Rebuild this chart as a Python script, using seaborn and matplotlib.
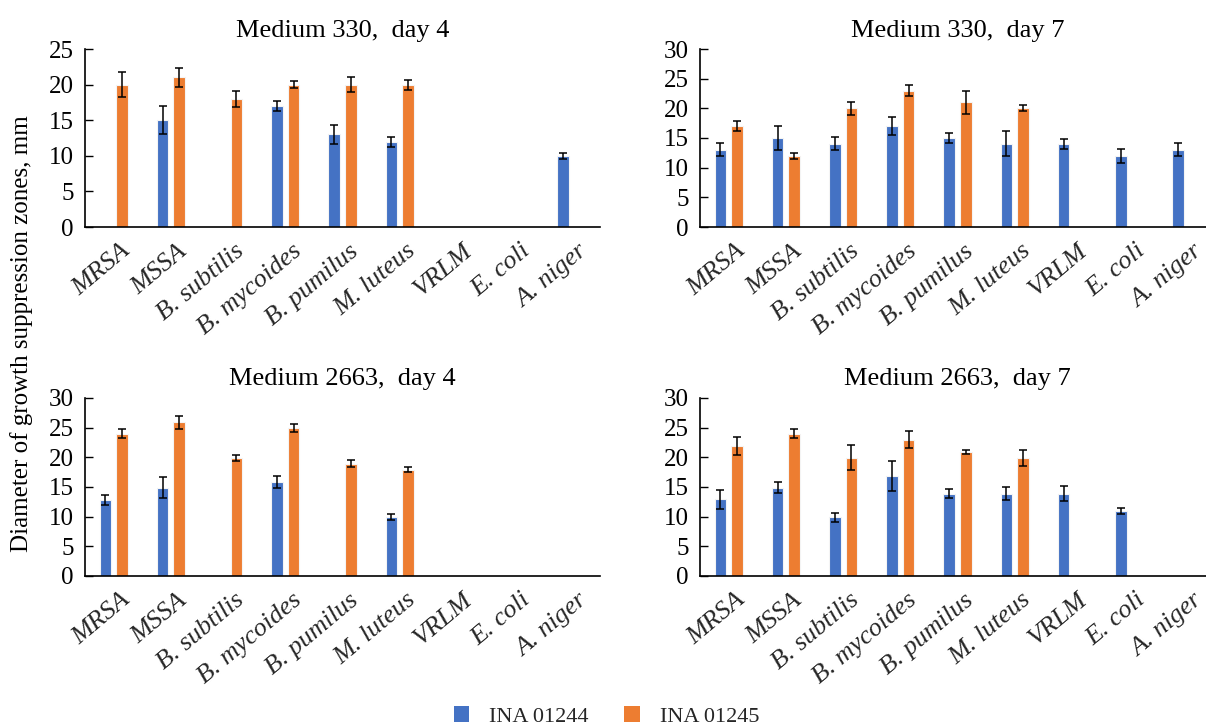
import numpy as np
import pandas as pd
import matplotlib
matplotlib.use("Agg")
import matplotlib.pyplot as plt
import matplotlib.transforms as mtransforms
from matplotlib.patches import Patch
import seaborn as sns

# ---------------- data ----------------
organisms = ["MRSA", "MSSA", "B. subtilis", "B. mycoides", "B. pumilus",
             "M. luteus", "VRLM", "E. coli", "A. niger"]
strains = ["INA 01244", "INA 01245"]
titles = ["Medium 330,  day 4", "Medium 330,  day 7",
          "Medium 2663,  day 4", "Medium 2663,  day 7"]

# Medium 330, day 4
m330_d4_01244 = [0, 15, 0, 17, 13, 12, 0, 0, 10]
m330_d4_01244_err = [0, 2.0, 0, 0.7, 1.3, 0.7, 0, 0, 0.4]
m330_d4_01245 = [20, 21, 18, 20, 20, 20, 0, 0, 0]
m330_d4_01245_err = [1.7, 1.4, 1.1, 0.5, 1.0, 0.7, 0, 0, 0]

# Medium 330, day 7
m330_d7_01244 = [13, 15, 14, 17, 15, 14, 14, 12, 13]
m330_d7_01244_err = [1.1, 2.0, 1.1, 1.5, 0.9, 2.1, 0.8, 1.2, 1.1]
m330_d7_01245 = [17, 12, 20, 23, 21, 20, 0, 0, 0]
m330_d7_01245_err = [0.9, 0.5, 1.1, 1.0, 2.0, 0.5, 0, 0, 0]

# Medium 2663, day 4
m2663_d4_01244 = [12.8, 14.9, 0, 15.9, 0, 9.9, 0, 0, 0]
m2663_d4_01244_err = [0.8, 1.8, 0, 1.0, 0, 0.5, 0, 0, 0]
m2663_d4_01245 = [24, 25.9, 19.9, 25, 18.9, 17.9, 0, 0, 0]
m2663_d4_01245_err = [0.8, 1.1, 0.5, 0.7, 0.6, 0.4, 0, 0, 0]

# Medium 2663, day 7
m2663_d7_01244 = [12.9, 14.9, 9.9, 16.9, 13.9, 13.9, 13.9, 10.9, 0]
m2663_d7_01244_err = [1.6, 0.9, 0.8, 2.5, 0.8, 1.1, 1.3, 0.5, 0]
m2663_d7_01245 = [21.9, 24, 19.9, 23, 20.9, 19.9, 0, 0, 0]
m2663_d7_01245_err = [1.5, 0.8, 2.1, 1.5, 0.4, 1.3, 0, 0, 0]

panels = [
    (m330_d4_01244, m330_d4_01244_err, m330_d4_01245, m330_d4_01245_err, 25),
    (m330_d7_01244, m330_d7_01244_err, m330_d7_01245, m330_d7_01245_err, 30),
    (m2663_d4_01244, m2663_d4_01244_err, m2663_d4_01245, m2663_d4_01245_err, 30),
    (m2663_d7_01244, m2663_d7_01244_err, m2663_d7_01245, m2663_d7_01245_err, 30),
]

colors = {"INA 01244": "#4472C4", "INA 01245": "#ED7D31"}

# ---------------- style ----------------
sns.set_theme(style="white")
plt.rcParams["font.family"] = ["Liberation Serif", "DejaVu Serif"]

FS_TITLE = 19
FS_XT = 19
FS_YT = 18
FS_YL = 18
FS_LEG = 16

fig = plt.figure(figsize=(12.06, 7.28), dpi=100)

W, H = 1206.0, 728.0
boxes = [  # left, top, right, bottom in pixels
    (85, 49, 600, 227),
    (700, 49, 1215, 227),
    (85, 398, 600, 576),
    (700, 398, 1215, 576),
]

for (v1, e1, v2, e2, ymax), (l, t, r, b), title in zip(panels, boxes, titles):
    ax = fig.add_axes([l / W, 1 - b / H, (r - l) / W, (b - t) / H])
    df = pd.DataFrame({
        "organism": organisms * 2,
        "strain": [strains[0]] * len(organisms) + [strains[1]] * len(organisms),
        "value": list(v1) + list(v2),
    })
    sns.barplot(data=df, x="organism", y="value", hue="strain",
                order=organisms, hue_order=strains, palette=colors,
                width=0.58, gap=0.3, errorbar=None, legend=False,
                linewidth=0.8, edgecolor="#f4f4f4", ax=ax, saturation=1)
    errs = [e1, e2]
    vals = [v1, v2]
    bar_containers = list(ax.containers)[:2]
    for ci, cont in enumerate(bar_containers):
        for bi, bar in enumerate(cont):
            if vals[ci][bi] <= 0:
                bar.set_visible(False)
                continue
            xc = bar.get_x() + bar.get_width() / 2
            ax.errorbar(xc, bar.get_height(), yerr=errs[ci][bi], fmt="none",
                        ecolor="black", elinewidth=1.1, capsize=3.0,
                        capthick=1.1, zorder=5)
    ax.set_xlim(-0.5, 8.5)
    ax.set_ylim(0, ymax)
    ax.set_yticks(np.arange(0, ymax + 1, 5))
    ax.set_xlabel("")
    ax.set_ylabel("")
    for s in ["top", "right"]:
        ax.spines[s].set_visible(False)
    for s in ["left", "bottom"]:
        ax.spines[s].set_color("black")
        ax.spines[s].set_linewidth(1.2)
    ax.tick_params(axis="y", direction="in", length=6, width=1, pad=8,
                   labelsize=FS_YT, colors="black", left=True)
    ax.tick_params(axis="x", length=0, pad=5, labelsize=FS_XT)
    offset = mtransforms.ScaledTranslation(6 / 100, -6 / 100, fig.dpi_scale_trans)
    for lab in ax.get_xticklabels():
        lab.set_rotation(40)
        lab.set_ha("right")
        lab.set_va("top")
        lab.set_rotation_mode("anchor")
        lab.set_fontstyle("italic")
        lab.set_transform(lab.get_transform() + offset)
    ax.set_title(title, fontsize=FS_TITLE, color="black", pad=9)

fig.text(22 / W, 1 - 334 / H, "Diameter of growth suppression zones, mm",
         rotation=90, ha="center", va="center", fontsize=FS_YL, color="black")

handles = [Patch(facecolor=colors[s], edgecolor="none") for s in strains]
fig.legend(handles, strains, loc="lower center", bbox_to_anchor=(0.503, -0.026),
           ncol=2, frameon=False, fontsize=FS_LEG, handlelength=0.7,
           handleheight=0.7, columnspacing=1.6, handletextpad=0.9)

fig.savefig("out.png", dpi=100)
